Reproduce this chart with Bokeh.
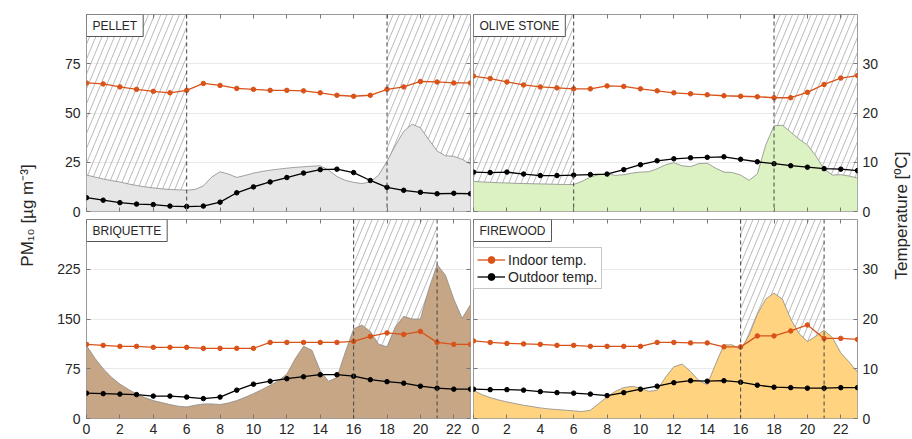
import math
import numpy as np
from bokeh.plotting import figure
from bokeh.models import Range1d, LinearAxis, FixedTicker, Span, Label, Legend, LegendItem
from bokeh.layouts import row, column
from bokeh.embed import file_html
from bokeh.resources import INLINE
from bokeh.core.properties import value

FONT = "Liberation Sans"
TXT = "#262626"

# ---------------- data ----------------
hours = list(range(24))                 # hourly temperature samples
pm_hours = [h / 2 for h in range(47)]   # half-hourly PM10 samples, 0 .. 23 h
x_ticks = list(range(0, 23, 2))

top_pm_ticks = [0, 25, 50, 75]
bottom_pm_ticks = [0, 75, 150, 225]
temp_ticks = [0, 10, 20, 30]
top_pm_max = 100
bottom_pm_max = 300
temp_max = 40

names = ["PELLET", "OLIVE STONE", "BRIQUETTE", "FIREWOOD"]

pellet_pm = [18.5, 17.5, 16.5, 15.7, 15.0, 14.0, 13.2, 12.5, 12.0, 11.5, 11.2, 11.0,
             10.8, 11.2, 13.0, 17.5, 20.2, 19.0, 17.3, 18.3, 19.5, 20.3, 21.0, 21.5,
             22.0, 22.4, 22.7, 23.0, 23.2, 21.0, 17.8, 15.8, 14.8, 14.2, 15.0, 18.5,
             25.5, 33.5, 40.7, 44.3, 42.5, 36.5, 30.7, 28.3, 28.0, 26.5, 24.0]
olive_pm = [15.3, 15.0, 14.8, 14.6, 14.5, 14.3, 14.2, 14.1, 14.0, 13.9, 13.8, 13.7,
            13.7, 15.3, 17.5, 18.7, 19.2, 18.3, 18.7, 19.5, 20.0, 20.2, 21.7, 23.7,
            24.8, 23.2, 22.8, 24.3, 24.5, 22.0, 20.0, 19.8, 18.5, 15.8, 19.0, 33.7,
            43.5, 43.8, 40.3, 36.7, 33.8, 28.3, 21.5, 18.5, 18.7, 18.0, 17.0]
briquette_pm = [110, 91, 75, 62, 52, 44, 37, 31.5, 27, 24, 21, 18.5,
                17.5, 20, 22, 22, 21, 23.5, 27, 32, 37.5, 43.5, 50, 57,
                67, 90, 109, 103, 72, 56, 62, 100, 135, 141, 131, 112,
                108, 138, 154, 150, 150, 195, 232, 216, 180, 151, 172]
firewood_pm = [42.5, 36, 31.5, 28, 25, 22.5, 20, 18, 16, 14.5, 13.5, 12.5,
               11.5, 10.5, 12.5, 22.5, 32.5, 41, 46.5, 48.5, 46, 41, 42.5, 62,
               78, 82, 71, 57, 51, 82, 111, 111, 104, 125, 157, 180,
               189, 180, 150, 128, 116, 124, 133, 122, 99, 85, 70]

pellet_in = [26.1, 25.9, 25.3, 24.8, 24.4, 24.1, 24.6, 26.0, 25.6, 25.0, 24.8, 24.6,
             24.6, 24.5, 24.1, 23.6, 23.4, 23.6, 24.8, 25.3, 26.4, 26.3, 26.1, 26.1]
pellet_out = [2.8, 2.3, 1.8, 1.5, 1.4, 1.1, 1.0, 1.1, 1.9, 3.8, 5.0, 6.0,
              6.9, 7.8, 8.5, 8.6, 7.9, 6.3, 4.9, 4.3, 3.9, 3.6, 3.7, 3.6]
olive_in = [27.5, 27.0, 26.3, 25.7, 25.3, 25.1, 24.9, 24.9, 25.5, 25.4, 24.9, 24.5,
            24.1, 23.9, 23.7, 23.5, 23.4, 23.3, 23.1, 23.1, 24.2, 25.8, 27.1, 27.6]
olive_out = [8.0, 7.9, 8.0, 7.6, 7.3, 7.3, 7.4, 7.5, 7.6, 8.5, 9.5, 10.3,
             10.7, 10.9, 11.0, 11.1, 10.6, 10.1, 9.7, 9.3, 9.0, 8.7, 8.6, 8.3]
briquette_in = [14.9, 14.7, 14.5, 14.5, 14.3, 14.3, 14.3, 14.1, 14.1, 14.1, 14.1, 15.3,
                15.3, 15.3, 15.3, 15.3, 15.5, 16.5, 17.2, 16.9, 17.5, 15.3, 14.9, 14.9]
briquette_out = [5.1, 5.0, 4.9, 4.8, 4.5, 4.5, 4.3, 4.0, 4.3, 5.7, 6.9, 7.5,
                 8.0, 8.4, 8.8, 8.8, 8.5, 7.8, 7.4, 7.1, 6.5, 6.1, 5.9, 5.9]
firewood_in = [15.6, 15.3, 15.1, 15.0, 14.9, 14.7, 14.7, 14.5, 14.5, 14.5, 14.5, 15.3,
               15.3, 15.2, 15.2, 14.4, 14.4, 16.6, 16.6, 17.6, 18.8, 16.1, 16.1, 15.9]
firewood_out = [5.9, 5.8, 5.8, 5.7, 5.4, 5.2, 5.1, 4.9, 4.6, 5.2, 5.9, 6.5,
                7.2, 7.6, 7.5, 7.6, 7.3, 6.7, 6.3, 6.2, 6.1, 6.1, 6.2, 6.2]

pellet_shade = [(0, 6), (18, 23)]
olive_shade = [(0, 6), (18, 23)]
briquette_shade = [(16, 21)]
firewood_shade = [(16, 21)]

fill_colors = ["#E6E6E6", "#DDF2C2", "#C6A684", "#FFD380"]
IN_COLOR = "#D95319"
OUT_COLOR = "#000000"

# layout (pixels)
TOP_H, BOT_H = 218, 221
LEFT_W, RIGHT_W = 423, 410
LAB_L_W, LAB_R_W = 48, 31
FRAME_W = 384
HATCH_GAP_PX = 6.2      # horizontal spacing of hatch lines
HATCH_SLOPE = 2.4       # screen slope of hatch lines


def tick_axis(loc, ticks, labels, range_name="default", standoff=0):
    kw = dict(ticker=FixedTicker(ticks=ticks), major_tick_in=4, major_tick_out=0,
              minor_tick_line_color=None, axis_line_color=None,
              major_tick_line_color="#777777",
              major_label_text_font=FONT)
    if loc in ("left", "right"):
        kw["y_range_name"] = range_name
    if labels:
        kw.update(major_label_text_font_size="14px", major_label_standoff=standoff,
                  major_label_text_color=TXT)
    else:
        kw.update(major_label_text_font_size="1px", major_label_standoff=0,
                  major_label_text_color=None)
    return LinearAxis(**kw)


def hatch_segments(shade, ymax, frame_h):
    hpp = 23 / FRAME_W                       # hours per pixel
    span_h = frame_h / HATCH_SLOPE * hpp     # x shift over full height
    gap_h = HATCH_GAP_PX * hpp
    xs0, ys0, xs1, ys1 = [], [], [], []
    for a, b in shade:
        for x0 in np.arange(a - span_h, b, gap_h):
            t0 = max(0.0, (a - x0) / span_h)
            t1 = min(1.0, (b - x0) / span_h)
            if t1 > t0:
                xs0.append(x0 + t0 * span_h)
                ys0.append(t0 * ymax)
                xs1.append(x0 + t1 * span_h)
                ys1.append(t1 * ymax)
    return xs0, ys0, xs1, ys1


def panel(name, pm, t_in, t_out, fill, shade, is_left, is_bottom, legend=False):
    ymax = bottom_pm_max if is_bottom else top_pm_max
    yticks = bottom_pm_ticks if is_bottom else top_pm_ticks
    b_top = 1 if is_bottom else 14
    b_bot = 21 if is_bottom else 7
    height = BOT_H if is_bottom else TOP_H
    p = figure(width=LEFT_W if is_left else RIGHT_W, height=height,
               x_range=Range1d(0, 23), y_range=Range1d(0, ymax),
               x_axis_location=None, y_axis_location=None, title=None,
               output_backend="svg", toolbar_location=None, tools="",
               min_border_left=38 if is_left else 2, min_border_right=1 if is_left else 24,
               min_border_top=b_top, min_border_bottom=b_bot)
    p.extra_y_ranges = {"temp": Range1d(0, temp_max)}
    p.outline_line_color = "#9a9a9a"
    p.background_fill_color = "white"
    p.border_fill_color = "white"
    p.xgrid.visible = False
    p.ygrid.ticker = FixedTicker(ticks=yticks)
    p.ygrid.grid_line_color = "#e9e9e9"

    # axes
    p.add_layout(tick_axis("below", x_ticks, is_bottom, standoff=5), "below")
    p.add_layout(tick_axis("above", x_ticks, False), "above")
    if is_left:
        p.add_layout(tick_axis("left", yticks, True, standoff=6), "left")
        p.add_layout(tick_axis("right", temp_ticks, False, "temp"), "right")
    else:
        p.add_layout(tick_axis("left", yticks, False), "left")
        p.add_layout(tick_axis("right", temp_ticks, True, "temp", standoff=5), "right")

    # hatched periods
    hx0, hy0, hx1, hy1 = hatch_segments(shade, ymax, height - b_top - b_bot)
    p.segment(x0=hx0, y0=hy0, x1=hx1, y1=hy1, line_color="#a8a8a8", line_width=0.8)

    # PM10 area
    p.varea(x=pm_hours, y1=[0] * len(pm), y2=pm, fill_color=fill)
    p.line(pm_hours, pm, line_color="#8c8c8c", line_width=0.8)

    for a, b in shade:
        for v in (a, b):
            if 0 < v < 23:
                p.add_layout(Span(location=v, dimension="height", line_color="#444444",
                                  line_dash="4 3", line_width=1))

    li = p.line(hours, t_in, y_range_name="temp", line_color=IN_COLOR, line_width=1.3)
    si = p.scatter(hours, t_in, y_range_name="temp", size=4.5, color=IN_COLOR)
    lo = p.line(hours, t_out, y_range_name="temp", line_color=OUT_COLOR, line_width=1.3)
    so = p.scatter(hours, t_out, y_range_name="temp", size=4.5, color=OUT_COLOR)

    p.add_layout(Label(x=0, y=ymax, text=name, text_font=FONT, text_font_size="12px",
                       text_color=TXT, text_align="left", text_baseline="top",
                       background_fill_color="white", border_line_color="#555555",
                       border_line_width=1,
                       padding=dict(left=6, right=6, top=4, bottom=4),
                       x_offset=0, y_offset=0))

    if legend:
        lg = Legend(items=[LegendItem(label="Indoor temp.", renderers=[li, si]),
                           LegendItem(label="Outdoor temp.", renderers=[lo, so])],
                    location=(0, 129), label_text_font=FONT, label_text_font_size="14px",
                    label_text_color=TXT, glyph_width=28, glyph_height=17, label_height=17,
                    label_standoff=3, spacing=0, padding=3, margin=0,
                    border_line_color="#8c8c8c", border_line_width=1,
                    background_fill_color="white", background_fill_alpha=1)
        p.add_layout(lg)
    return p


tl = panel(names[0], pellet_pm, pellet_in, pellet_out, fill_colors[0], pellet_shade, True, False)
tr = panel(names[1], olive_pm, olive_in, olive_out, fill_colors[1], olive_shade, False, False)
bl = panel(names[2], briquette_pm, briquette_in, briquette_out, fill_colors[2], briquette_shade, True, True)
br = panel(names[3], firewood_pm, firewood_in, firewood_out, fill_colors[3], firewood_shade, False, True,
           legend=True)

H = TOP_H + BOT_H


def label_fig(w, text, xpos):
    f = figure(width=w, height=H, x_range=Range1d(0, w), y_range=Range1d(0, H),
               x_axis_location=None, y_axis_location=None, title=None,
               output_backend="svg", toolbar_location=None, tools="", min_border=0)
    f.outline_line_color = None
    f.xgrid.visible = False
    f.ygrid.visible = False
    f.text(x=[xpos], y=[H - 215], text=[text], angle=math.pi / 2, text_align="center",
           text_baseline="middle", text_font=value(FONT), text_font_size="17px",
           text_color=TXT)
    return f


left_lab = label_fig(LAB_L_W, "PM\u2081\u2080 [\u00b5g m\u207b\u00b3]", 27)
right_lab = label_fig(LAB_R_W, "Temperature [\u00baC]", 20)

layout = row(left_lab, column(tl, bl), column(tr, br), right_lab)
open("out.html", "w").write(file_html(layout, INLINE))
